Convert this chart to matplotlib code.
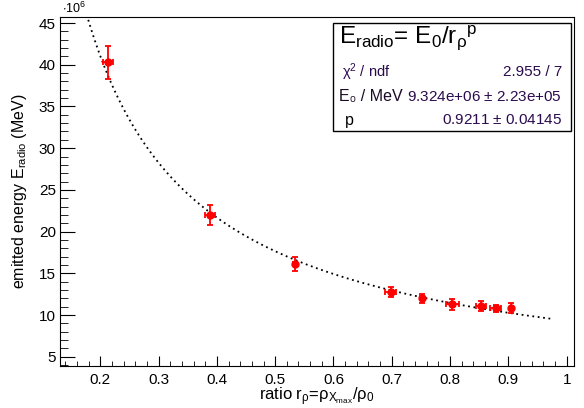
import numpy as np
import matplotlib
matplotlib.use('Agg')
import matplotlib.pyplot as plt
from matplotlib.patches import Rectangle
from matplotlib.ticker import MultipleLocator

plt.rcParams['font.family'] = ['Liberation Sans', 'DejaVu Sans']
plt.rcParams['mathtext.default'] = 'regular'

# Daten (Energie in Einheiten von 1e6 MeV)
ratio = [0.213, 0.388, 0.534, 0.698, 0.751, 0.804, 0.853, 0.878, 0.905]
ratio_err = [0.009, 0.009, 0.004, 0.009, 0.003, 0.011, 0.009, 0.010, 0.003]
energy = [40.3, 22.0, 16.1, 12.8, 12.0, 11.3, 11.1, 10.8, 10.85]
energy_err = [1.95, 1.25, 0.85, 0.6, 0.55, 0.66, 0.6, 0.4, 0.54]

# Fitparameter aus der Statistikbox
E0 = 9.324e6
p = 0.9211
fit_range = (0.15, 0.977)

purple = '#2b0b4d'

fig = plt.figure(figsize=(5.84, 4.08), dpi=100)
ax = fig.add_axes([60 / 584, 1 - 366 / 408, 514 / 584, 349 / 408])

r = np.linspace(fit_range[0], fit_range[1], 400)
ax.plot(r, E0 / r ** p / 1e6, color='black', lw=1.3, ls=(0, (1, 2)))

ax.errorbar(ratio, energy, xerr=ratio_err, yerr=energy_err, fmt='o', color='red',
            ms=5, elinewidth=1.3, capsize=2, capthick=1.3)

ax.set_xlim(0.131, 1.0125)
ax.set_ylim(3.9, 45.72)
ax.xaxis.set_major_locator(MultipleLocator(0.1))
ax.xaxis.set_minor_locator(MultipleLocator(0.02))
ax.yaxis.set_major_locator(MultipleLocator(5))
ax.yaxis.set_minor_locator(MultipleLocator(1))
ax.set_xticks([0.2, 0.3, 0.4, 0.5, 0.6, 0.7, 0.8, 0.9, 1.0])
ax.set_xticklabels(['0.2', '0.3', '0.4', '0.5', '0.6', '0.7', '0.8', '0.9', '1'])
ax.tick_params(axis='both', which='both', direction='in', top=False, right=False, labelsize=11)
ax.tick_params(axis='x', which='major', length=7.5, pad=5)
ax.tick_params(axis='x', which='minor', length=3.8)
ax.tick_params(axis='y', which='major', length=11, pad=3)
ax.tick_params(axis='y', which='minor', length=5.5)

ax.set_xlabel(r'ratio r$_\rho$=$\rho_{X_{max}}/\rho_0$', fontsize=12, labelpad=-1)
ax.set_ylabel(r'emitted energy E$_{radio}$ (MeV)', fontsize=11.5, labelpad=7)
fig.text(62 / 584, 1 - 16 / 408, r'$\cdot10^6$', fontsize=9, va='bottom')

# Statistikbox
box = Rectangle((333 / 584, 1 - 131 / 408), 238 / 584, 108 / 408, transform=fig.transFigure,
                facecolor='white', edgecolor='black', lw=1, zorder=5)
fig.patches.append(box)
fig.text(339 / 584, 1 - 38 / 408, r'E$_{radio}$= E$_0$/r$_\rho$$^p$', fontsize=17.5, va='center', zorder=6)
fig.text(342 / 584, 1 - 72 / 408, r'$\chi^2$ / ndf', fontsize=10.5, color=purple, va='center', zorder=6)
fig.text(562 / 584, 1 - 72 / 408, '2.955 / 7', fontsize=11, color=purple, va='center', ha='right', zorder=6)
fig.text(339 / 584, 1 - 97 / 408, 'E\u2080 / MeV', fontsize=11.5, color='#1a0a26', va='center', zorder=6)
fig.text(562 / 584, 1 - 97 / 408, '9.324e+06 $\\pm$ 2.23e+05', fontsize=11, color=purple, va='center',
         ha='right', zorder=6)
fig.text(345 / 584, 1 - 120 / 408, 'p', fontsize=11.5, color='black', va='center', zorder=6)
fig.text(562 / 584, 1 - 120 / 408, '0.9211 $\\pm$ 0.04145', fontsize=11, color=purple, va='center',
         ha='right', zorder=6)

fig.savefig('out.png', dpi=100)
